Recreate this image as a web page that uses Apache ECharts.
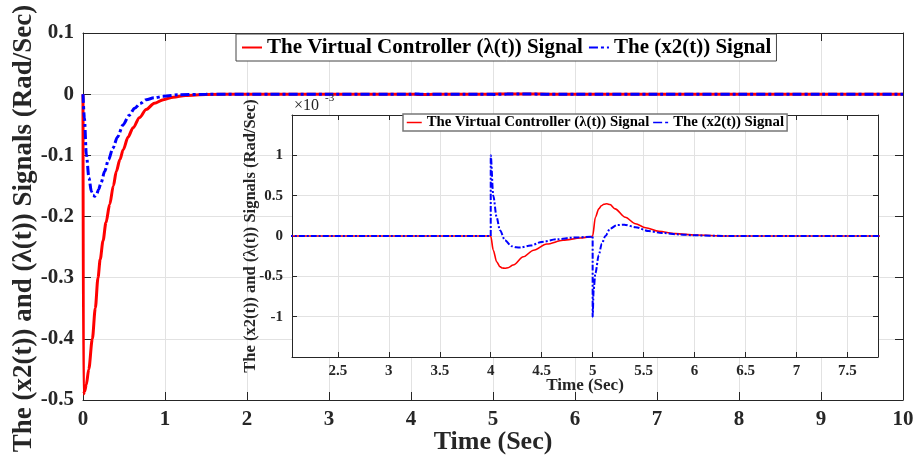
<!DOCTYPE html>
<html><head><meta charset="utf-8">
<script src="https://cdn.jsdelivr.net/npm/echarts@6/dist/echarts.min.js"></script>
<style>html,body{margin:0;padding:0;background:#fff}#c{width:916px;height:461px}</style>
</head><body><div id="c"></div>
<script>
// ---- data (values in Rad/Sec) ----
const seriesNames = ['The Virtual Controller (\u03bb(t)) Signal', 'The (x2(t)) Signal'];
const lambdaTime = [0, 0.005, 0.02, 0.04, 0.07, 0.114, 0.15, 0.183, 0.21, 0.244, 0.28, 0.326, 0.37, 0.407, 0.45, 0.49, 0.55, 0.61, 0.69, 0.77, 0.87, 0.98, 1.1, 1.25, 1.5, 2, 3, 4,
  4.025, 4.058, 4.09, 4.115, 4.14, 4.17, 4.22, 4.32, 4.42, 4.55, 4.71, 4.88, 4.98, 5,
  5.027, 5.06, 5.085, 5.11, 5.14, 5.17, 5.22, 5.32, 5.42, 5.52, 5.65, 5.81, 6.01, 6.3, 7, 8, 9, 10];
const lambdaValue = [0, -0.49, -0.486, -0.475, -0.45, -0.40, -0.35, -0.30, -0.27, -0.24, -0.21, -0.18, -0.15, -0.126, -0.107, -0.091, -0.07, -0.055, -0.038, -0.025, -0.015, -0.009, -0.005, -0.002, -0.0005, 0, 0, 0,
  -0.176e-3, -0.319e-3, -0.38e-3, -0.397e-3, -0.40e-3, -0.393e-3, -0.36e-3, -0.258e-3, -0.176e-3, -0.10e-3, -0.053e-3, -0.025e-3, -0.01e-3, 0,
  0.233e-3, 0.336e-3, 0.375e-3, 0.394e-3, 0.40e-3, 0.39e-3, 0.336e-3, 0.233e-3, 0.152e-3, 0.103e-3, 0.058e-3, 0.029e-3, 0.012e-3, 0, 0, 0, 0, 0];
const x2Time = [0, 0.017, 0.041, 0.073, 0.102, 0.122, 0.143, 0.165, 0.19, 0.22, 0.265, 0.31, 0.366, 0.42, 0.49, 0.56, 0.63, 0.7, 0.77, 0.87, 0.98, 1.17, 1.5, 2, 3, 4,
  4, 4.025, 4.058, 4.09, 4.14, 4.206, 4.25, 4.29, 4.39, 4.5, 4.65, 4.81, 4.98, 5,
  5, 5.01, 5.027, 5.06, 5.09, 5.125, 5.17, 5.24, 5.31, 5.42, 5.55, 5.68, 5.85, 6.01, 6.3, 7, 8, 9, 10];
const x2Value = [0, -0.039, -0.099, -0.137, -0.159, -0.165, -0.167, -0.164, -0.156, -0.145, -0.126, -0.107, -0.088, -0.07, -0.05, -0.035, -0.023, -0.015, -0.009, -0.006, -0.0036, -0.001, -0.0002, 0, 0, 0,
  1.0e-3, 0.5e-3, 0.233e-3, 0.07e-3, -0.053e-3, -0.127e-3, -0.14e-3, -0.143e-3, -0.118e-3, -0.074e-3, -0.041e-3, -0.02e-3, -0.01e-3, 0,
  -1.0e-3, -0.667e-3, -0.46e-3, -0.237e-3, -0.094e-3, 0, 0.09e-3, 0.135e-3, 0.14e-3, 0.11e-3, 0.061e-3, 0.037e-3, 0.02e-3, 0.008e-3, 0, 0, 0, 0, 0];
const insetScale = 1e3;          // inset axis is in units of 10^-3
const insetXTicks = [2.5, 3, 3.5, 4, 4.5, 5, 5.5, 6, 6.5, 7, 7.5];

// ---- build ----
const FONT = "'Liberation Serif','Times New Roman',serif";
const TXT = '#262626';
const GRIDC = '#e2e2e2';
const pairs = (t, v, k) => t.map((x, i) => [x, v[i] * k]);
const mainLambda = pairs(lambdaTime, lambdaValue, 1);
const mainX2 = pairs(x2Time, x2Value, 1);
const insLambda = pairs(lambdaTime, lambdaValue, insetScale).filter(p => p[0] >= 2);
const insX2 = pairs(x2Time, x2Value, insetScale).filter(p => p[0] >= 2);

function ax(o) {
  return Object.assign({
    type: 'value',
    nameMoveOverlap: false,
    axisLine: {show: true, onZero: false, lineStyle: {color: TXT, width: 1}},
    axisTick: {show: true, inside: true, length: 8, lineStyle: {color: TXT, width: 1}},
    axisLabel: {show: true, fontFamily: FONT, fontWeight: 'bold', fontSize: 21, color: TXT, margin: 9},
    splitLine: {show: false},
    nameTextStyle: {fontFamily: FONT, fontWeight: 'bold', fontSize: 26, color: TXT}
  }, o);
}
const insTick = {show: true, inside: true, length: 5, lineStyle: {color: TXT, width: 1}};
const insLabel = {show: true, fontFamily: FONT, fontWeight: 'bold', fontSize: 15, color: TXT, margin: 7};

const chart = echarts.init(document.getElementById('c'), null, {renderer: 'canvas'});
chart.setOption({
  animation: false,
  backgroundColor: '#fff',
  grid: [
    {left: 83, right: 13, top: 33, bottom: 61, show: false, containLabel: false, outerBoundsMode: 'none'},
    {left: 292, right: 38, top: 115, bottom: 104, show: true, backgroundColor: '#fff', borderWidth: 0, z: 3,
     containLabel: false, outerBoundsMode: 'none'}
  ],
  xAxis: [
    ax({gridIndex: 0, min: 0, max: 10, interval: 1, position: 'bottom',
        name: 'Time (Sec)', nameLocation: 'middle', nameGap: 29,
        splitLine: {show: true, lineStyle: {color: GRIDC, width: 1}}}),
    ax({gridIndex: 0, min: 0, max: 10, interval: 1, position: 'top', axisLabel: {show: false}}),
    ax({gridIndex: 1, min: 2.05, max: 7.8, position: 'bottom', z: 4,
        name: 'Time (Sec)', nameLocation: 'middle', nameGap: 20,
        nameTextStyle: {fontFamily: FONT, fontWeight: 'bold', fontSize: 17, color: TXT},
        axisTick: Object.assign({customValues: insetXTicks}, insTick),
        axisLabel: Object.assign({customValues: insetXTicks}, insLabel),
        splitLine: {show: true, lineStyle: {color: GRIDC, width: 1}}}),
    ax({gridIndex: 1, min: 2.05, max: 7.8, position: 'top', z: 4,
        axisTick: Object.assign({customValues: insetXTicks}, insTick),
        axisLabel: {show: false, customValues: insetXTicks}})
  ],
  yAxis: [
    ax({gridIndex: 0, min: -0.5, max: 0.1, interval: 0.1, position: 'left',
        name: 'The (x2(t)) and (\u03bb(t)) Signals (Rad/Sec)', nameLocation: 'middle', nameGap: 45,
        nameTextStyle: {fontFamily: FONT, fontWeight: 'bold', fontSize: 27, color: TXT, padding: [0, 24, 0, 0]},
        splitLine: {show: true, lineStyle: {color: GRIDC, width: 1}}}),
    ax({gridIndex: 0, min: -0.5, max: 0.1, interval: 0.1, position: 'right', axisLabel: {show: false}}),
    ax({gridIndex: 1, min: -1.5, max: 1.5, interval: 0.5, position: 'left', z: 4,
        name: 'The (x2(t)) and (\u03bb(t)) Signals (Rad/Sec)', nameLocation: 'middle', nameGap: 33,
        nameTextStyle: {fontFamily: FONT, fontWeight: 'bold', fontSize: 16.5, color: TXT},
        axisTick: insTick,
        axisLabel: Object.assign({showMinLabel: false, showMaxLabel: false}, insLabel, {margin: 9}),
        splitLine: {show: true, lineStyle: {color: GRIDC, width: 1}}}),
    ax({gridIndex: 1, min: -1.5, max: 1.5, interval: 0.5, position: 'right', z: 4,
        axisTick: insTick, axisLabel: {show: false}})
  ],
  legend: [
    {data: seriesNames, left: 236, top: 34, orient: 'horizontal', z: 10,
     backgroundColor: '#fff', borderColor: '#444', borderWidth: 1, padding: [3, 5, 3, 5],
     itemGap: 5, itemWidth: 20, itemHeight: 14, selectedMode: false,
     itemStyle: {opacity: 0},
     textStyle: {fontFamily: FONT, fontWeight: 'bold', fontSize: 21, color: '#000'}},
    {data: seriesNames, left: 403, top: 114, orient: 'horizontal', z: 10,
     backgroundColor: '#fff', borderColor: '#777', borderWidth: 1.5, padding: [1, 3, 1, 3],
     itemGap: 3, itemWidth: 15, itemHeight: 10, selectedMode: false,
     itemStyle: {opacity: 0},
     lineStyle: {width: 1.5},
     textStyle: {fontFamily: FONT, fontWeight: 'bold', fontSize: 14.8, color: '#000'}}
  ],
  graphic: [
    {type: 'text', left: 294, top: 98, z: 10, style: {text: '\u00d710', font: "16px 'Liberation Serif'", fill: TXT}},
    {type: 'text', left: 325, top: 93, z: 10, style: {text: '-3', font: "11px 'Liberation Serif'", fill: TXT}}
  ],
  series: [
    {name: seriesNames[0], type: 'line', xAxisIndex: 0, yAxisIndex: 0, data: mainLambda, symbol: 'none', z: 2,
     smooth: 0.3, smoothMonotone: 'x',
     lineStyle: {color: '#ff0000', width: 3}, itemStyle: {color: '#ff0000'}},
    {name: seriesNames[1], type: 'line', xAxisIndex: 0, yAxisIndex: 0, data: mainX2, symbol: 'none', z: 2,
     smooth: 0.3, smoothMonotone: 'x',
     lineStyle: {color: '#0000ff', width: 3, type: [9, 3, 3, 3]}, itemStyle: {color: '#0000ff'}},
    {name: seriesNames[0], type: 'line', xAxisIndex: 2, yAxisIndex: 2, data: insLambda, symbol: 'none', z: 5,
     smooth: 0.3, smoothMonotone: 'x',
     lineStyle: {color: '#ff0000', width: 1.6}, itemStyle: {color: '#ff0000'}},
    {name: seriesNames[1], type: 'line', xAxisIndex: 2, yAxisIndex: 2, data: insX2, symbol: 'none', z: 5,
     smooth: 0.3, smoothMonotone: 'x',
     lineStyle: {color: '#0000ff', width: 2, type: [6, 2, 2, 2]}, itemStyle: {color: '#0000ff'}}
  ]
});
</script></body></html>
